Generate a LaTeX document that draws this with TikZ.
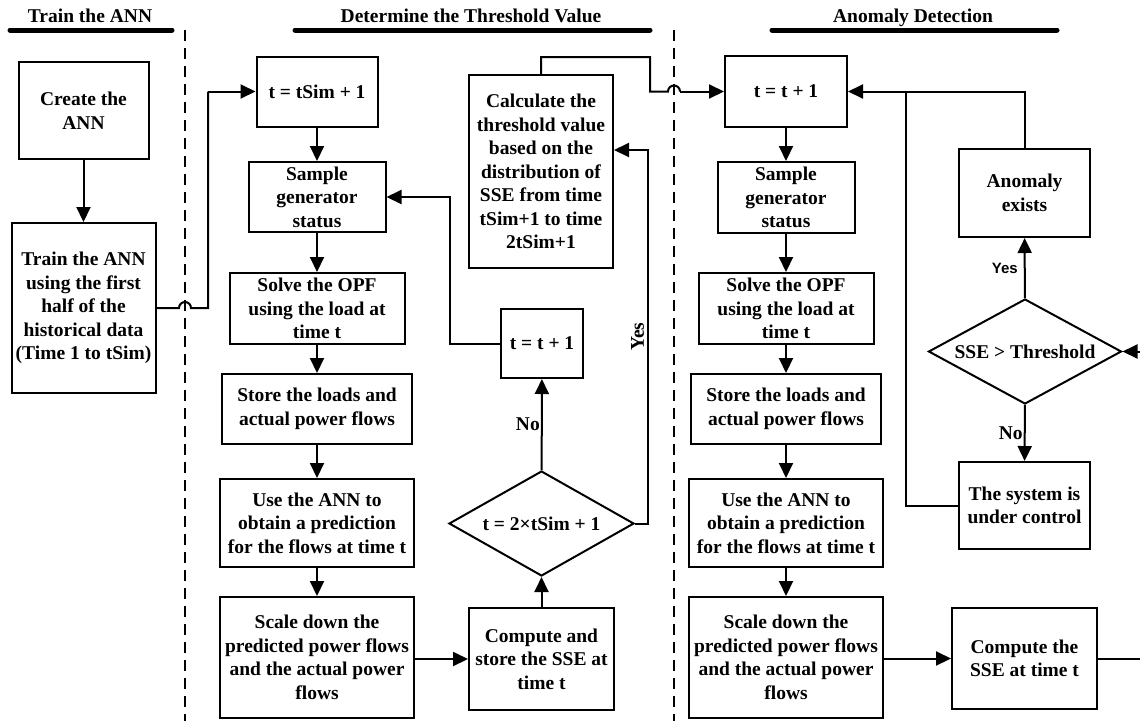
\documentclass[tikz,border=0pt]{standalone}
\usepackage{fontspec}
\setmainfont{Liberation Serif}
\newfontfamily\lblsans{Liberation Sans}
\usetikzlibrary{arrows.meta,shapes.geometric}

\begin{document}
\begin{tikzpicture}[x=1pt,y=-1pt,
    font=\bfseries\fontsize{19.5}{23.5}\selectfont,
    box/.style={draw, line width=2pt, align=center, inner sep=1pt},
    decision/.style={draw, diamond, line width=2pt, align=center, inner sep=0pt},
    arr/.style={-{Triangle[length=15pt,width=14pt]}, line width=2pt},
    link/.style={line width=2pt},
    sep/.style={line width=2pt, dash pattern=on 11pt off 7pt},
    header/.style={line width=5pt, line cap=round}]
\clip (0,0) rectangle (1140,721);

% headers and separators
\node[anchor=base] (hdrtrain) at (90,22) {Train the ANN};
\node[anchor=base] (hdrthresh) at (471,22) {Determine the Threshold Value};
\node[anchor=base] (hdranomaly) at (913,22) {Anomaly Detection};
\draw[header] (10,30) -- (172,30);
\draw[header] (295,30) -- (650,30);
\draw[header] (772,30) -- (1057,30);
\draw[sep] (185,30) -- (185,721);
\draw[sep] (674,30) -- (674,721);

% train the ANN
\node[box, minimum width=130pt, minimum height=97pt] (create) at (83.5,110.5) {Create the\\ANN};
\node[box, minimum width=144pt, minimum height=170pt] (train) at (83.5,308) {Train the ANN\\using the first\\half of the\\historical data\\(Time 1 to tSim)};

% determine the threshold value
\node[box, minimum width=121pt, minimum height=70pt] (tsim) at (317,91.5) {t = tSim + 1};
\node[box, minimum width=137pt, minimum height=70pt] (sample1) at (317,197) {Sample\\generator\\status};
\node[box, minimum width=175pt, minimum height=71pt] (solve1) at (317,308.5) {Solve the OPF\\using the load at\\time t};
\node[box, minimum width=190pt, minimum height=70pt] (store1) at (317,409) {Store the loads and\\actual power flows};
\node[box, minimum width=194pt, minimum height=88pt] (useann1) at (317,523) {Use the ANN to\\obtain a prediction\\for the flows at time t};
\node[box, minimum width=194pt, minimum height=121pt] (scale1) at (317,657.5) {Scale down the\\predicted power flows\\and the actual power\\flows};
\node[box, minimum width=145pt, minimum height=102pt] (compute1) at (541.5,659) {Compute and\\store the SSE at\\time t};
\node[decision, shape aspect=1.76, minimum width=185pt, minimum height=105pt] (decide1) at (541.5,523.5) {t = 2\texttimes tSim + 1};
\node[box, minimum width=82pt, minimum height=69pt] (tinc1) at (542,343.5) {t = t + 1};
\node[box, minimum width=144pt, minimum height=193pt] (calc) at (541,171.5) {Calculate the\\threshold value\\based on the\\distribution of\\SSE from time\\tSim+1 to time\\2tSim+1};

% anomaly detection
\node[box, minimum width=122pt, minimum height=71pt] (tinc2) at (786,91.5) {t = t + 1};
\node[box, minimum width=137pt, minimum height=71pt] (sample2) at (786,197.5) {Sample\\generator\\status};
\node[box, minimum width=175pt, minimum height=71pt] (solve2) at (786,308.5) {Solve the OPF\\using the load at\\time t};
\node[box, minimum width=190pt, minimum height=70pt] (store2) at (786,409) {Store the loads and\\actual power flows};
\node[box, minimum width=194pt, minimum height=88pt] (useann2) at (786,523) {Use the ANN to\\obtain a prediction\\for the flows at time t};
\node[box, minimum width=194pt, minimum height=121pt] (scale2) at (786,657.5) {Scale down the\\predicted power flows\\and the actual power\\flows};
\node[box, minimum width=145pt, minimum height=101pt] (computesse) at (1024.5,658.5) {Compute the\\SSE at time t};
\node[decision, shape aspect=1.84, minimum width=193pt, minimum height=105pt] (check) at (1025,351.5) {SSE > Threshold};
\node[box, minimum width=131pt, minimum height=88pt] (anomaly) at (1024.5,193) {Anomaly\\exists};
\node[box, minimum width=131pt, minimum height=87pt] (normal) at (1024.5,505.5) {The system is\\under control};

% connectors
\draw[arr] (create) -- (train);
\draw[link] (train.east) -- (179,308) arc[start angle=180, end angle=0, radius=6pt] -- (208,308) -- (208,91.5);
\draw[arr] (208,91.5) -- (tsim.west);
\draw[arr] (tsim) -- (sample1);
\draw[arr] (sample1) -- (solve1);
\draw[arr] (solve1) -- (store1);
\draw[arr] (store1) -- (useann1);
\draw[arr] (useann1) -- (scale1);
\draw[arr] (scale1.east |- compute1) -- (compute1.west);
\draw[arr] (compute1) -- (decide1);
\draw[arr] (decide1) -- node[anchor=east, inner sep=1pt] (lblno1) {No} (tinc1);
\draw[arr] (tinc1.west) -- ++(-50,0) |- (sample1.east);
\draw[arr] (decide1.east) -- (648,523.5) -- node[rotate=90, anchor=south, inner sep=3pt] (lblyes1) {Yes} (648,150) -- ([yshift=21.5pt]calc.east);
\draw[link] (calc.north) -- (541,57) -- (650,57) -- (650,91.5) -- (668,91.5) arc[start angle=180, end angle=0, radius=6pt] -- (680,91.5);
\draw[arr] (680,91.5) -- (tinc2.west);
\draw[arr] (tinc2) -- (sample2);
\draw[arr] (sample2) -- (solve2);
\draw[arr] (solve2) -- (store2);
\draw[arr] (store2) -- (useann2);
\draw[arr] (useann2) -- (scale2);
\draw[arr] (scale2.east |- computesse) -- (computesse.west);
\draw[arr] (computesse.east) -- (1148,658.5) -- (1148,351.5) -- (check.east);
\draw[arr] (check) -- node[anchor=east, inner sep=6pt, font=\lblsans\bfseries\fontsize{15}{18}\selectfont] (lblyes2) {Yes} (anomaly);
\draw[arr] (check) -- node[anchor=east, inner sep=1pt] (lblno2) {No} (normal);
\draw[arr] (anomaly.north) |- (tinc2.east);
\draw[link] (normal.west) -| (906,91.5);
\end{tikzpicture}
\end{document}
